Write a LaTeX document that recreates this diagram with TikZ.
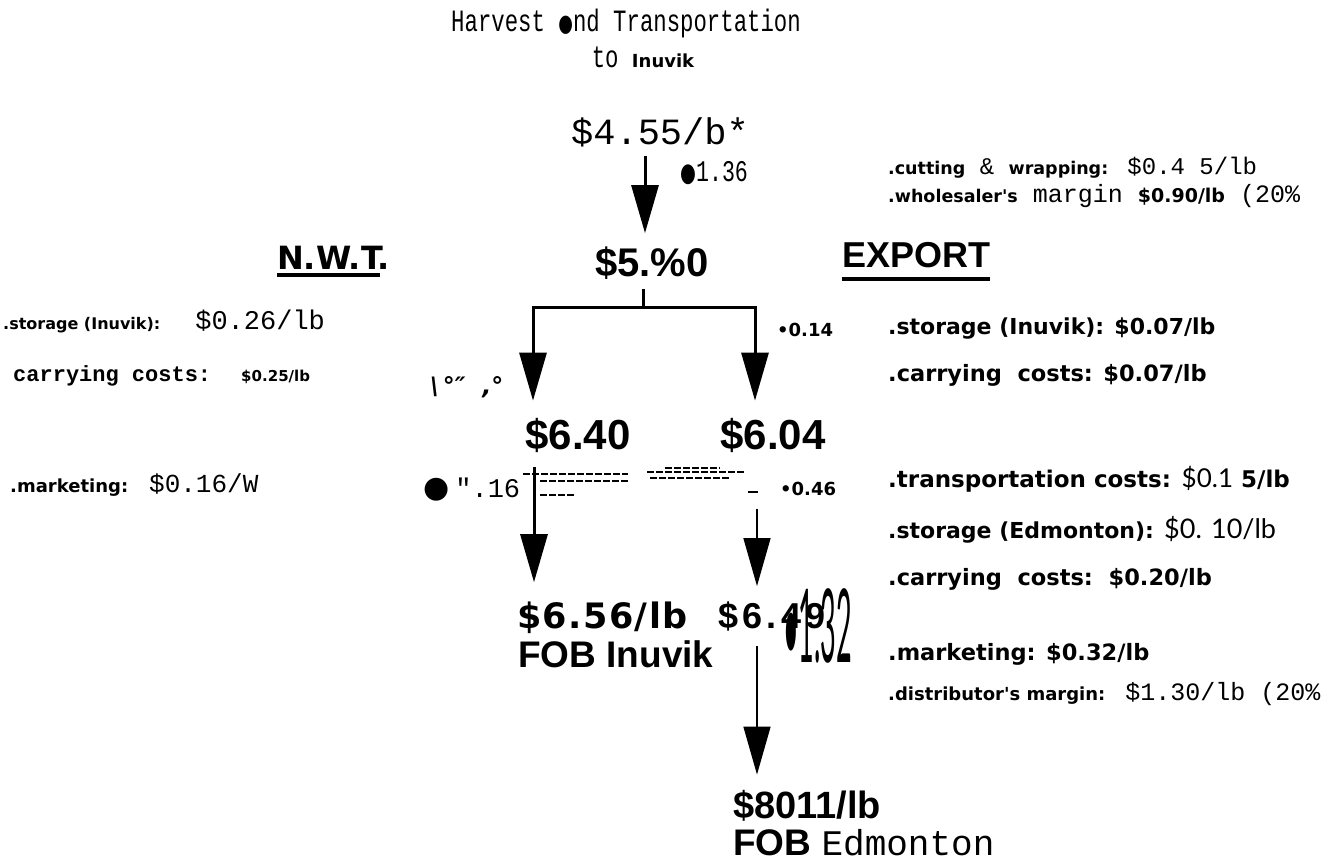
\documentclass[tikz,border=0pt]{standalone}
\usepackage{fontspec}
\setmainfont{Liberation Sans}
\newfontfamily\mono{Liberation Mono}
\newfontfamily\monon{Liberation Mono}[FakeStretch=0.72]
\newfontfamily\blob{DejaVu Sans}
\newfontfamily\blobsp{DejaVu Sans}[LetterSpace=4]
\newfontfamily\thinf{Lato}
\newfontfamily\sparse{Liberation Sans}[LetterSpace=12]
\newfontfamily\symf{DejaVu Sans}
\newcommand{\bl}[1]{{\blob\bfseries #1}}
\newcommand{\mo}[1]{{\mono #1}}
\newcommand{\fs}[1]{\fontsize{#1}{#1}\selectfont}
\usetikzlibrary{arrows.meta,positioning,calc}

\begin{document}
\begin{tikzpicture}[x=1pt,y=-1pt,
  price/.style={anchor=base,inner sep=0pt,font=\bfseries\fs{42}},
  note/.style={anchor=base west,inner sep=0pt},
  arr/.style={-{Triangle[length=48pt,width=27pt]},line width=3pt},
  thinarr/.style={arr,line width=1.5pt},
  stem/.style={line width=3pt},
  scan/.style={line width=1.5pt,dash pattern=on 7pt off 2pt}]
  \useasboundingbox (0,0) rectangle (1342,866);

  \node[anchor=base,inner sep=0pt,font=\monon\fs{31}] (harv) at (626,32) {Harvest {\symf\fs{24}\scalebox{0.7}[1]{●}}nd Transportation};
  \node[anchor=base,inner sep=0pt,font=\fs{31}] (toinu) at (643,68) {{\monon to }\bl{\fs{18}Inuvik}};

  \node[anchor=base,inner sep=0pt,font=\mono\fs{37}] (p455) at (660,145) {\$4.55/b*};
  \node[note,font=\monon\fs{30}] (d136) at (680,182) {{\symf\fs{26}\scalebox{0.7}[1]{●}}1.36};
  \node[price,font=\bfseries\fs{40}] (p590) at (652,277) {\$5.\%0};

  \node[note,font=\blob\bfseries\fs{32}] (nwt) at (277,270) {N.W.T.};
  \node[note,font=\bfseries\fs{36}] (exp) at (842,268) {EXPORT};
  \draw[line width=4pt] ([yshift=-5pt]nwt.base west) -- ([xshift=-10pt,yshift=-5pt]nwt.base east);
  \draw[line width=4pt] ([yshift=-11pt]exp.base west) -- ([yshift=-11pt]exp.base east);

  \node[price] (p640) at (578,450) {\$6.40};
  \node[price] (p604) at (773,450) {\$6.04};
  \node[note,font=\blobsp\bfseries\fs{35}] (p656) at (517,628) {\$6.56/lb};
  \node[note,font=\bfseries\fs{37}] (fobi) at (518,667) {FOB Inuvik};
  \node[note,font=\sparse\bfseries\fs{36}] (p649) at (718,628) {\$6.49};
  \node[note,font=\thinf\fs{60}] (d132) at (783,662) {\scalebox{0.45}[1.7]{•1.32}};
  \node[note,font=\bfseries\fs{38}] (p8011) at (733,818) {\$8011/lb};
  \node[note,font=\bfseries\fs{37}] (fobe) at (733,855) {FOB {\mono\mdseries\fs{36}Edmonton}};

  \node[note,font=\blob\bfseries\fs{18}] (d014) at (777,337) {•0.14};
  \node[note,font=\blob\bfseries\fs{18}] (d046) at (780,496) {•0.46};
  \node[note,font=\mono\fs{27}] (d016) at (423,497) {{\symf\fs{30}●}\hspace{6pt}".16};
  \node[note,font=\blob\bfseries\itshape\fs{24}] (tick) at (430,395) {\textbackslash\,°″\ \ ,°};

  \node[note,font=\fs{27}] (lsto) at (3,330) {\bl{\fs{16}.storage (Inuvik):}\hspace{35pt}\mo{\$0.26/lb}};
  \node[note,font=\mono\bfseries\fs{22}] (lcar) at (13,382) {carrying costs:\hspace{30pt}\bl{\fs{15}\$0.25/lb}};
  \node[note,font=\mono\fs{26}] (lmkt) at (10,493) {\bl{\fs{18}.marketing:}\hspace{21pt}\$0.16/W};

  \node[note,font=\mono\fs{24}] (rcut) at (888,175) {\bl{\fs{17.5}.cutting} \& \bl{\fs{17.5}wrapping:} \$0.4 5/lb};
  \node[note,font=\mono\fs{25}] (rwho) at (888,203) {\bl{\fs{17.5}.wholesaler's} margin \bl{\fs{19}\$0.90/lb} (20\%};
  \node[note,font=\blob\bfseries\fs{22}] (rsto) at (888,335) {.storage (Inuvik): \$0.07/lb};
  \node[note,font=\blob\bfseries\fs{22.5}] (rcar) at (888,382) {.carrying\ \ costs: \$0.07/lb};
  \node[note,font=\blob\bfseries\fs{23}] (rtra) at (888,488) {.transportation costs: {\thinf\mdseries\fs{26}\$0.1} 5/lb};
  \node[note,font=\blob\bfseries\fs{22}] (redm) at (888,538) {.storage (Edmonton): {\thinf\mdseries\fs{27}\$0. 10/lb}};
  \node[note,font=\blob\bfseries\fs{22.5}] (rcar2) at (888,585) {.carrying\ \ costs:\ \ \$0.20/lb};
  \node[note,font=\blob\bfseries\fs{22.5}] (rmkt) at (888,660) {.marketing: \$0.32/lb};
  \node[note,font=\mono\fs{25}] (rdis) at (888,700) {\bl{\fs{18}.distributor's margin:} \$1.30/lb (20\%};

  \draw[arr,shorten <=8pt,shorten >=14pt] ([xshift=-15pt]p455.south) -- ([xshift=-7pt]p590.north);
  \draw[stem] ([xshift=-9pt,yshift=-9pt]p590.south) -- ++(0,18) coordinate (split);
  \draw[arr,shorten >=18pt] (split) -| ([xshift=-45pt]p640.north);
  \draw[arr,shorten >=18pt] (split) -| ([xshift=-18pt]p604.north);
  \draw[arr,shorten <=14pt,shorten >=19pt] ([xshift=-44pt]p640.south) -- ([xshift=17pt]p656.north west);
  \draw[thinarr,shorten <=56pt,shorten >=15pt] ([xshift=-16pt]p604.south) -- ([xshift=39pt]p649.north west);
  \draw[thinarr,shorten <=15pt,shorten >=15pt] ([xshift=39pt]p649.south west) -- ([xshift=24pt]p8011.north west);

  \draw[scan] (523,474) -- (628,474);
  \draw[scan] (540,481) -- (628,481);
  \draw[scan] (665,468) -- (720,468);
  \draw[scan] (647,472) -- (745,472);
  \draw[scan] (650,478) -- (730,478);
  \draw[scan] (540,495) -- (575,495);
  \draw[line width=1.5pt] (748,492) -- (758,492);
\end{tikzpicture}
\end{document}
